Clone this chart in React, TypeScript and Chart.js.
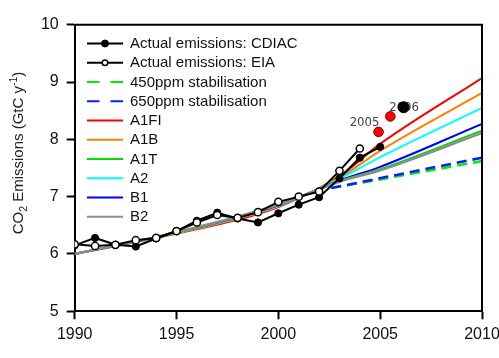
import React, { useEffect, useRef } from "react";
import { Chart, registerables } from "chart.js";

Chart.register(...registerables);

// ---- data ----
const cdiacYears = [1990, 1991, 1992, 1993, 1994, 1995, 1996, 1997, 1998, 1999, 2000, 2001, 2002, 2003, 2004, 2005];
const cdiacValues = [6.15, 6.28, 6.16, 6.13, 6.27, 6.4, 6.58, 6.72, 6.62, 6.55, 6.71, 6.86, 6.99, 7.32, 7.68, 7.87];

const eiaYears = [1990, 1991, 1992, 1993, 1994, 1995, 1996, 1997, 1998, 1999, 2000, 2001, 2002, 2003, 2004];
const eiaValues = [6.17, 6.14, 6.16, 6.24, 6.28, 6.4, 6.55, 6.68, 6.63, 6.73, 6.91, 7.0, 7.09, 7.45, 7.84];

const scenarioYears = [1990, 1995, 2000, 2003, 2005, 2010];
const a1fiValues = [6.0, 6.355, 6.82, 7.36, 7.92, 9.07];
const a1bValues = [6.0, 6.36, 6.83, 7.33, 7.8, 8.81];
const a1tValues = [6.0, 6.375, 6.86, 7.27, 7.48, 8.15];
const a2Values = [6.0, 6.37, 6.84, 7.31, 7.69, 8.55];
const b1Values = [6.0, 6.375, 6.85, 7.28, 7.52, 8.27];
const b2Values = [6.0, 6.38, 6.86, 7.26, 7.46, 8.11];

const stabYears = [2002.6, 2010];
const stab450Values = [7.15, 7.62];
const stab650Values = [7.15, 7.68];

const redDotYears = [2004.92, 2005.5];
const redDotValues = [8.13, 8.4];
const blackDotYears = [2006.15];
const blackDotValues = [8.56];

const noteLabels = ["2005", "2006"];
const noteYears = [2004.92, 2006.15];
const noteValues = [8.13, 8.56];

const xTicks = [1990, 1995, 2000, 2005, 2010];
const yTicks = [5, 6, 7, 8, 9, 10];

const legendNames = [
  "Actual emissions: CDIAC",
  "Actual emissions: EIA",
  "450ppm stabilisation",
  "650ppm stabilisation",
  "A1FI",
  "A1B",
  "A1T",
  "A2",
  "B1",
  "B2",
];

const pts = (xs: number[], ys: number[]) => xs.map((x, i) => ({ x, y: ys[i] }));

const FONT = "'Liberation Sans', Arial, Helvetica, sans-serif";

export default function App() {
  const ref = useRef<HTMLCanvasElement | null>(null);

  useEffect(() => {
    document.body.style.margin = "0";
    const canvas = ref.current;
    if (!canvas) return;

    const scenario = (label: string, values: number[], color: string, order: number, width = 2) => ({
      label,
      data: pts(scenarioYears, values),
      borderColor: color,
      backgroundColor: color,
      borderWidth: width,
      pointRadius: 0,
      cubicInterpolationMode: "monotone",
      order,
      inLegend: true,
    });

    const datasets: any[] = [
      {
        label: legendNames[0],
        data: pts(cdiacYears, cdiacValues),
        borderColor: "#000",
        backgroundColor: "#000",
        borderWidth: 2,
        pointRadius: 3.6,
        pointBackgroundColor: "#000",
        pointBorderColor: "#000",
        pointBorderWidth: 1,
        tension: 0,
        order: 1,
        inLegend: true,
        legendRadius: 3.5,
      },
      {
        label: legendNames[1],
        data: pts(eiaYears, eiaValues),
        borderColor: "#000",
        backgroundColor: "#fff",
        borderWidth: 2,
        pointRadius: 3.6,
        pointBackgroundColor: "#fff",
        pointBorderColor: "#000",
        pointBorderWidth: 1.5,
        tension: 0,
        order: 0,
        inLegend: true,
        legendRadius: 2.8,
      },
      {
        label: legendNames[2],
        data: pts(stabYears, stab450Values),
        borderColor: "#00ee00",
        borderWidth: 2.6,
        borderDash: [10, 6],
        pointRadius: 0,
        order: 3,
        inLegend: true,
      },
      {
        label: legendNames[3],
        data: pts(stabYears, stab650Values),
        borderColor: "#0022ff",
        borderWidth: 2.6,
        borderDash: [10, 6],
        pointRadius: 0,
        order: 2,
        inLegend: true,
      },
      scenario(legendNames[4], a1fiValues, "#ff0000", 9),
      scenario(legendNames[5], a1bValues, "#ff8000", 8),
      scenario(legendNames[6], a1tValues, "#00dd00", 5),
      scenario(legendNames[7], a2Values, "#00ffff", 7),
      scenario(legendNames[8], b1Values, "#0000ff", 6),
      scenario(legendNames[9], b2Values, "#8c8c8c", 4, 2.4),
      {
        label: "red",
        data: pts(redDotYears, redDotValues),
        showLine: false,
        pointRadius: 4.8,
        pointBackgroundColor: "#ff0000",
        pointBorderColor: "#7a0000",
        pointBorderWidth: 1,
        order: -2,
      },
      {
        label: "black",
        data: pts(blackDotYears, blackDotValues),
        showLine: false,
        pointRadius: 5.5,
        pointBackgroundColor: "#000",
        pointBorderColor: "#000",
        pointBorderWidth: 1,
        order: -3,
      },
    ];

    const framePlugin = {
      id: "frame",
      afterDraw(chart: any) {
        const { ctx, chartArea } = chart;
        ctx.save();
        ctx.strokeStyle = "#000";
        ctx.lineWidth = 2;
        ctx.beginPath();
        ctx.moveTo(chartArea.left, chartArea.top);
        ctx.lineTo(chartArea.right, chartArea.top);
        ctx.lineTo(chartArea.right, chartArea.bottom);
        ctx.stroke();
        ctx.restore();
      },
    };

    const notePlugin = {
      id: "notes",
      beforeDatasetsDraw(chart: any) {
        const { ctx, scales } = chart;
        const offsets = [
          [-14, -9],
          [0.5, 0],
        ];
        ctx.save();
        ctx.font = "13px 'Liberation Sans Narrow', 'DejaVu Sans Condensed', sans-serif";
        ctx.fillStyle = "#444";
        ctx.textAlign = "center";
        ctx.textBaseline = "middle";
        noteLabels.forEach((t, i) => {
          const px = scales.x.getPixelForValue(noteYears[i]) + offsets[i][0];
          const py = scales.y.getPixelForValue(noteValues[i]) + offsets[i][1];
          ctx.fillText(t, px, py);
        });
        ctx.restore();
      },
    };

    const legendPlugin = {
      id: "customLegend",
      afterDraw(chart: any) {
        const { ctx } = chart;
        const x0 = 87;
        const x1 = 123;
        const tx = 130;
        let y = 43.5;
        const step = 19.25;
        ctx.save();
        chart.data.datasets.forEach((ds: any) => {
          if (!ds.inLegend) return;
          ctx.strokeStyle = ds.borderColor;
          ctx.lineWidth = 2;
          ctx.setLineDash(ds.borderDash ? [12.5, 11] : []);
          ctx.beginPath();
          ctx.moveTo(x0, y);
          ctx.lineTo(x1, y);
          ctx.stroke();
          ctx.setLineDash([]);
          if (ds.pointRadius > 0) {
            ctx.beginPath();
            ctx.arc((x0 + x1) / 2, y, ds.legendRadius || 3, 0, Math.PI * 2);
            ctx.fillStyle = ds.pointBackgroundColor;
            ctx.fill();
            ctx.lineWidth = ds.pointBorderWidth;
            ctx.strokeStyle = ds.pointBorderColor;
            ctx.stroke();
          }
          ctx.fillStyle = "#111";
          ctx.font = "15px " + FONT;
          ctx.textAlign = "left";
          ctx.textBaseline = "middle";
          ctx.fillText(ds.label, tx, y + 0.5);
          y += step;
        });
        ctx.restore();
      },
    };

    const titlePlugin = {
      id: "yTitle",
      afterDraw(chart: any) {
        const { ctx } = chart;
        const big = "15px " + FONT;
        const small = "10.5px " + FONT;
        const segs = [
          { t: "CO", f: big, dy: 0 },
          { t: "2", f: small, dy: 4 },
          { t: " Emissions (GtC y", f: big, dy: 0 },
          { t: "-1", f: small, dy: -6 },
          { t: ")", f: big, dy: 0 },
        ];
        ctx.save();
        let total = 0;
        segs.forEach((s) => {
          ctx.font = s.f;
          total += ctx.measureText(s.t).width;
        });
        ctx.translate(23, 153);
        ctx.rotate(-Math.PI / 2);
        ctx.fillStyle = "#222";
        ctx.textAlign = "left";
        ctx.textBaseline = "alphabetic";
        let x = -total / 2;
        segs.forEach((s) => {
          ctx.font = s.f;
          ctx.fillText(s.t, x, s.dy);
          x += ctx.measureText(s.t).width;
        });
        ctx.restore();
      },
    };

    const chart = new Chart(canvas, {
      type: "line",
      data: { datasets },
      options: {
        responsive: false,
        animation: false,
        events: [],
        layout: { padding: { left: 0, right: 17, top: 24.7, bottom: 0 } },
        plugins: {
          legend: { display: false },
          tooltip: { enabled: false },
        },
        scales: {
          x: {
            type: "linear",
            min: 1990,
            max: 2010,
            afterBuildTicks: (scale: any) => {
              scale.ticks = xTicks.map((v) => ({ value: v }));
            },
            afterFit: (scale: any) => {
              scale.height = 46.7;
              scale.paddingLeft = 0;
              scale.paddingRight = 0;
            },
            ticks: {
              callback: (v: any) => String(v),
              font: { family: FONT, size: 16 },
              color: "#111",
              padding: 6,
              maxRotation: 0,
              autoSkip: false,
            },
            grid: {
              drawOnChartArea: false,
              drawTicks: true,
              tickLength: 8,
              tickWidth: 2,
              tickColor: "#000",
            },
            border: { display: true, color: "#000", width: 2 },
          },
          y: {
            type: "linear",
            min: 5,
            max: 10,
            afterBuildTicks: (scale: any) => {
              scale.ticks = yTicks.map((v) => ({ value: v }));
            },
            afterFit: (scale: any) => {
              scale.width = 74.7;
              scale.paddingTop = 0;
              scale.paddingBottom = 0;
            },
            ticks: {
              callback: (v: any) => String(v),
              font: { family: FONT, size: 16 },
              color: "#111",
              padding: 8,
              autoSkip: false,
            },
            grid: {
              drawOnChartArea: false,
              drawTicks: true,
              tickLength: 8,
              tickWidth: 2,
              tickColor: "#000",
            },
            border: { display: true, color: "#000", width: 2 },
          },
        },
      } as any,
      plugins: [framePlugin, notePlugin, legendPlugin, titlePlugin],
    });

    return () => chart.destroy();
  }, []);

  return (
    <div style={{ width: 499, height: 358, position: "relative" }}>
      <canvas ref={ref} width={499} height={358} style={{ display: "block" }} />
    </div>
  );
}
